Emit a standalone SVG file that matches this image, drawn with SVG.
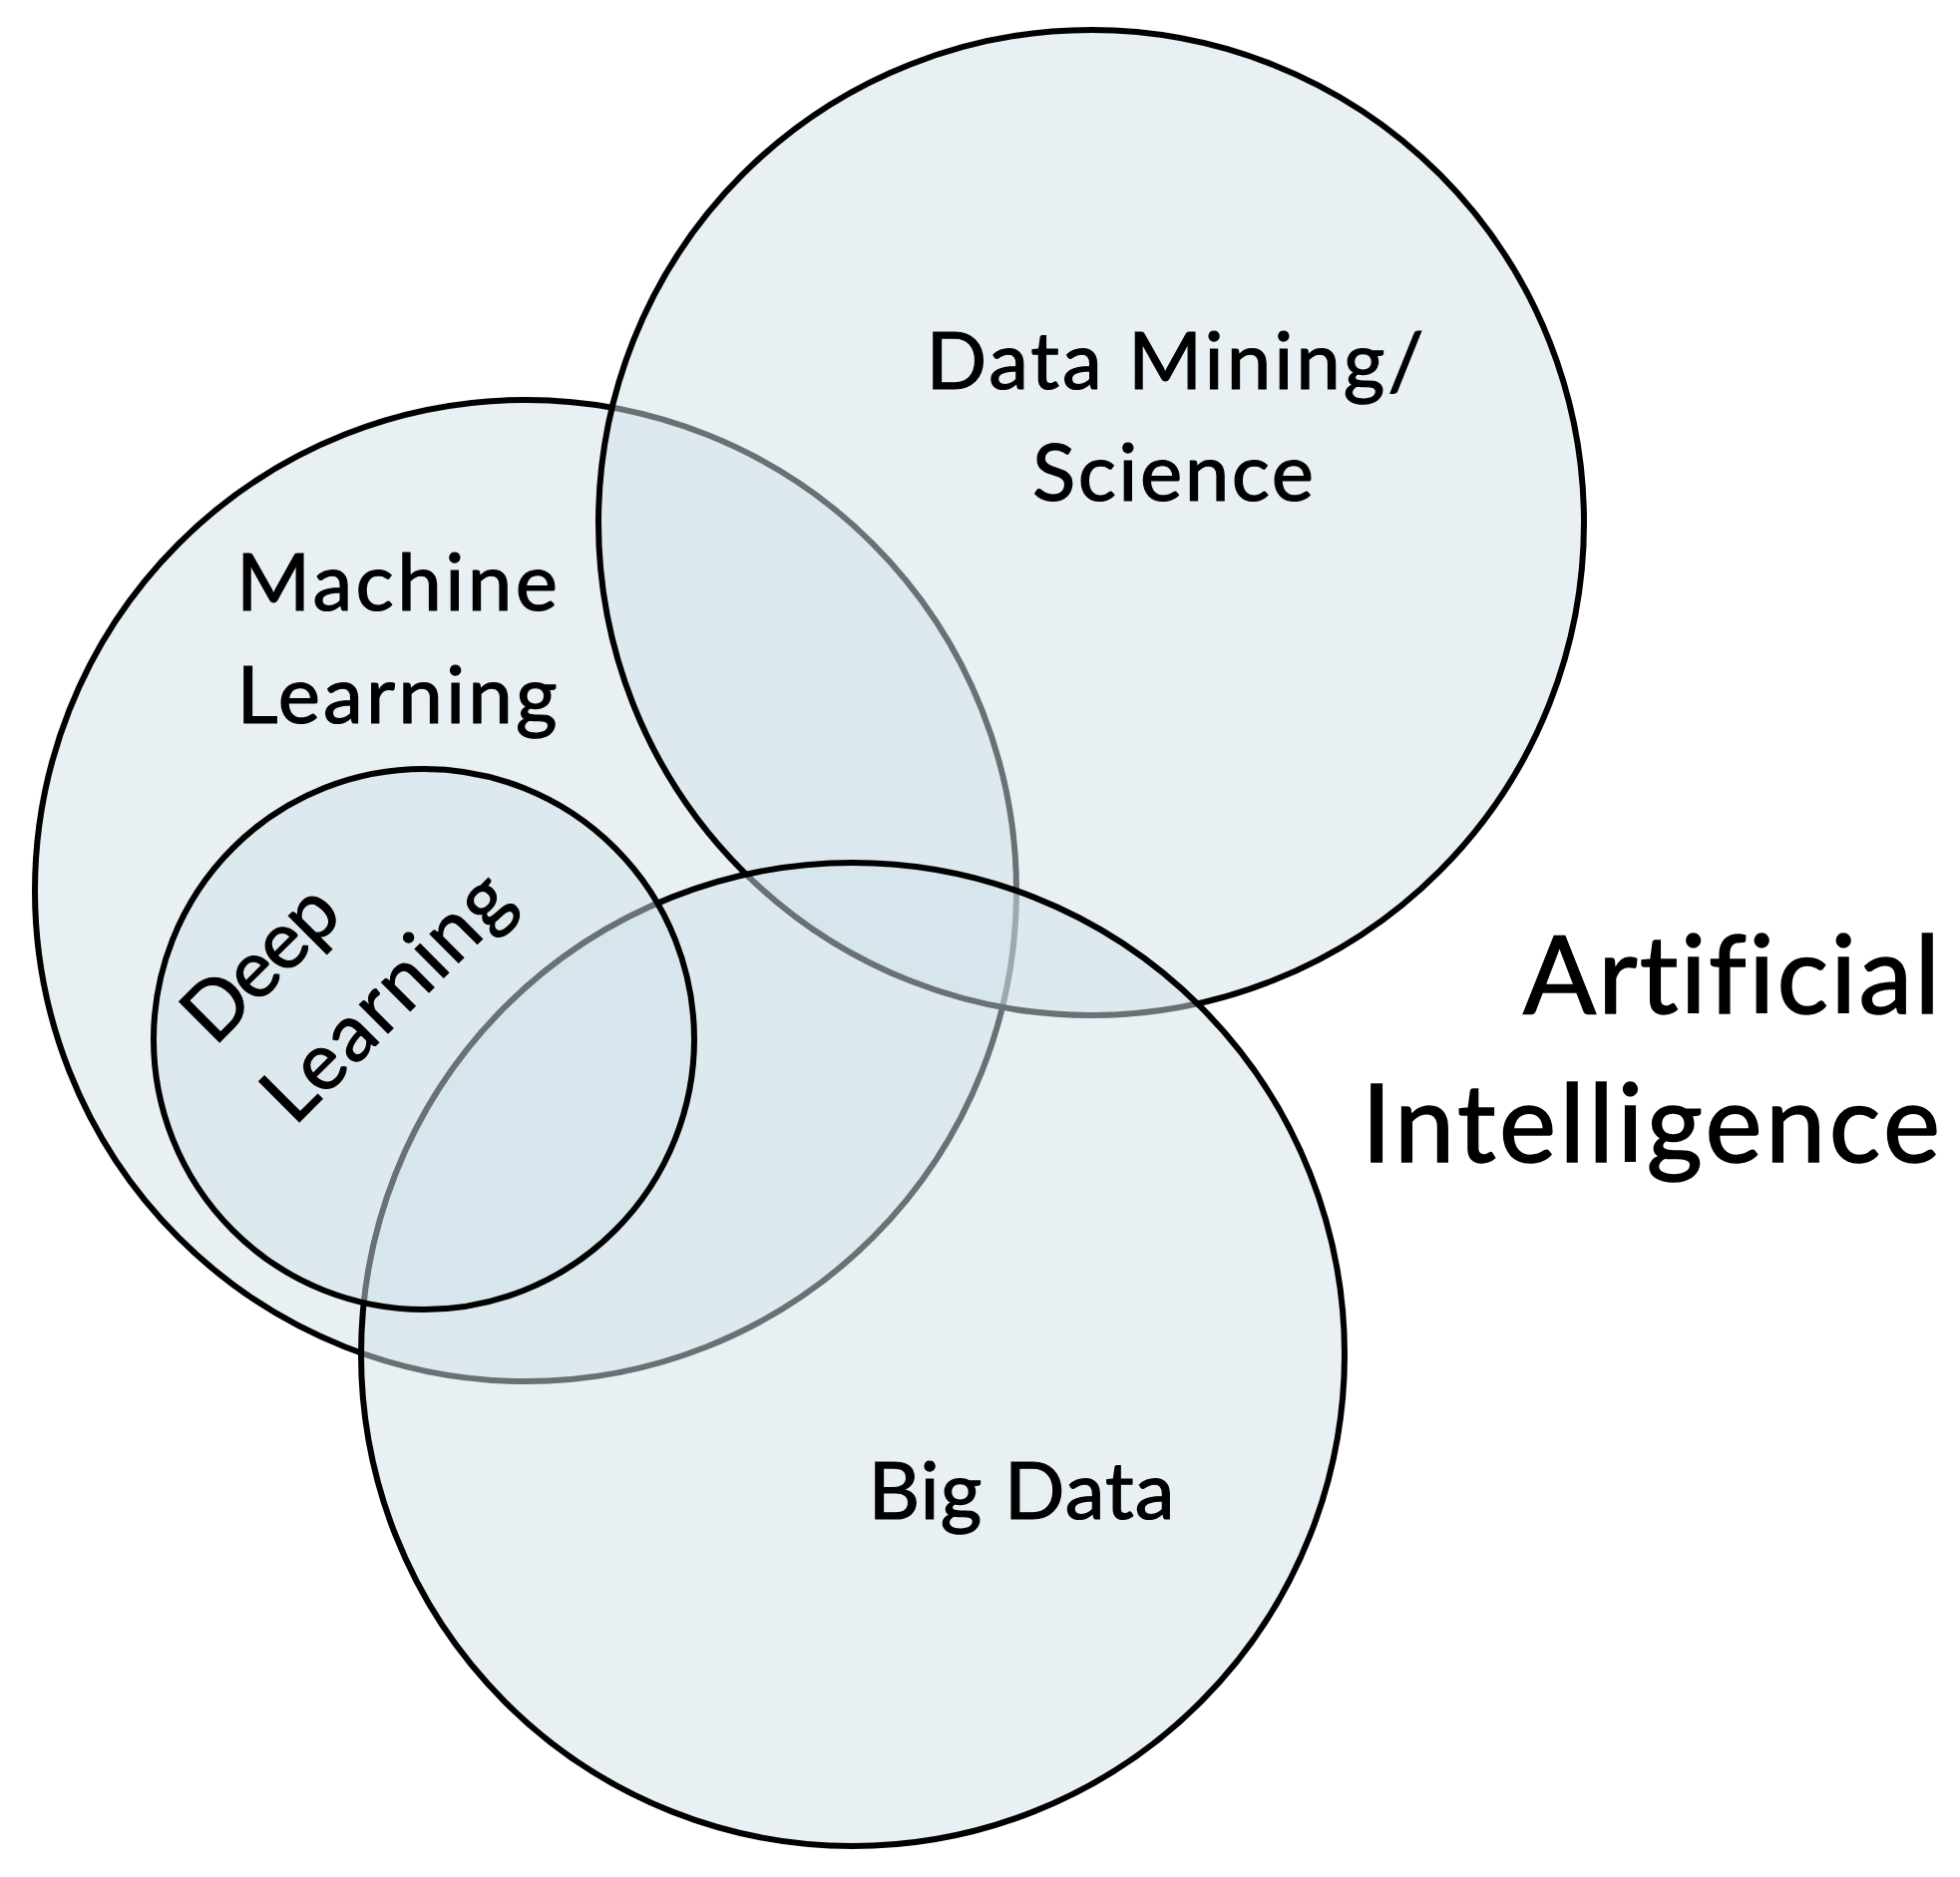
<svg xmlns="http://www.w3.org/2000/svg" width="1965" height="1882" viewBox="0 0 1965 1882">
  <style>
    .set { fill: #D2E2EA; fill-opacity: 0.5; stroke: #000000; stroke-width: 6; }
    .lbl { font-family: Lato, "Open Sans", "Liberation Sans", sans-serif; font-size: 80px; fill: #000000; stroke: #000000; stroke-width: 1.2; font-variant-ligatures: none; }
    .big { font-family: Lato, "Open Sans", "Liberation Sans", sans-serif; font-size: 108px; fill: #000000; stroke: #000000; stroke-width: 1.5; text-anchor: end; font-variant-ligatures: none; }
  </style>
  <rect x="0" y="0" width="1965" height="1882" fill="#FFFFFF"/>
  <g id="machine-learning">
    <circle class="set" cx="527" cy="893" r="492"/>
  </g>
  <g id="data-mining">
    <circle class="set" cx="1094" cy="524" r="494"/>
  </g>
  <g id="big-data">
    <circle class="set" cx="855" cy="1358" r="493"/>
  </g>
  <g id="deep-learning">
    <circle class="set" cx="425" cy="1042" r="271"/>
  </g>
  <g id="connectors"></g>
  <g id="labels">
    <text class="lbl" x="398" y="612" text-anchor="middle" textLength="322">Machine</text>
    <text class="lbl" x="398" y="725" text-anchor="middle" textLength="321">Learning</text>
    <text class="lbl" x="1178" y="390" text-anchor="middle" textLength="499">Data Mining/</text>
    <text class="lbl" x="1176" y="502" text-anchor="middle" textLength="282">Science</text>
    <text class="lbl" x="1024" y="1523" text-anchor="middle" textLength="307">Big Data</text>
    <g transform="rotate(-45 215 1050)">
      <text class="lbl" x="215" y="1050" textLength="185">Deep</text>
    </g>
    <g transform="rotate(-45 295 1130)">
      <text class="lbl" x="295" y="1130" textLength="316">Learning</text>
    </g>
    <text class="big" x="1945" y="1016" textLength="418">Artificial</text>
    <text class="big" x="1945" y="1165" textLength="580">Intelligence</text>
  </g>
</svg>
